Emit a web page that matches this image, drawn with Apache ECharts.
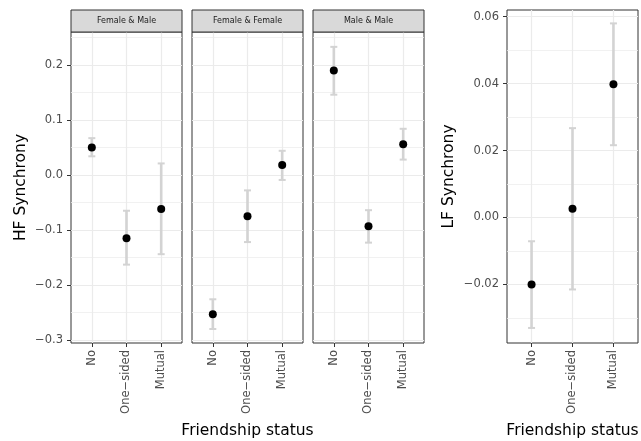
<!DOCTYPE html>
<html>
<head>
<meta charset="utf-8">
<script src="https://cdn.jsdelivr.net/npm/echarts@6/dist/echarts.min.js"></script>
<style>
  html, body { margin: 0; padding: 0; background: #fff; }
  #chart { width: 641px; height: 441px; }
</style>
</head>
<body>
<div id="chart"></div>
<script>
// categories along x (placed at 1, 2, 3 like a discrete ggplot axis)
var categories = ["No", "One\u2212sided", "Mutual"];
var catPos = [1, 2, 3];
var facets = ["Female & Male", "Female & Female", "Male & Male"];

// HF synchrony: one row per facet, one value per category
var hfMean = [
  [0.050, -0.115, -0.062],
  [-0.253, -0.075, 0.018],
  [0.190, -0.093, 0.056]
];
var hfLow = [
  [0.034, -0.163, -0.144],
  [-0.280, -0.122, -0.009],
  [0.146, -0.123, 0.028]
];
var hfHigh = [
  [0.067, -0.065, 0.021],
  [-0.226, -0.028, 0.044],
  [0.233, -0.064, 0.084]
];

// LF synchrony
var lfMean = [-0.020, 0.0026, 0.0398];
var lfLow = [-0.033, -0.0215, 0.0216];
var lfHigh = [-0.0071, 0.0267, 0.058];

// tick values
var hfTicks = [-0.3, -0.2, -0.1, 0, 0.1, 0.2];
var hfMinor = [-0.25, -0.15, -0.05, 0.05, 0.15, 0.25];
var lfTicks = [-0.02, 0, 0.02, 0.04, 0.06];
var lfMinor = [-0.03, -0.01, 0.01, 0.03, 0.05];

var FONT = "DejaVu Sans";
var panels = [
  { left: 71, top: 32, width: 111, height: 311 },
  { left: 192, top: 32, width: 111, height: 311 },
  { left: 313, top: 32, width: 111, height: 311 },
  { left: 507, top: 10, width: 131, height: 333 }
];

function fmt(dec) {
  return function (v) {
    var s = Math.abs(v).toFixed(dec);
    return (v < -1e-9 ? "\u2212" : "") + s;
  };
}

var grids = [], xAxes = [], yAxes = [], yMinorAxes = [], series = [];

panels.forEach(function (p, i) {
  var isLF = i === 3;
  grids.push({
    left: p.left, top: p.top, width: p.width, height: p.height,
    show: true, borderColor: "#333333", borderWidth: 1, backgroundColor: "transparent"
  });
  xAxes.push({
    gridIndex: i, type: "value", min: 0.4, max: 3.6,
    axisLine: { show: false, onZero: false },
    axisTick: { show: true, length: 4, customValues: catPos, lineStyle: { color: "#333333" } },
    axisLabel: {
      customValues: catPos, rotate: 90, margin: 7,
      color: "#4d4d4d", fontFamily: FONT, fontSize: 11.5,
      formatter: function (v) { return categories[Math.round(v) - 1]; }
    },
    splitLine: { show: true, lineStyle: { color: "#ebebeb", width: 1.2 } }
  });
  var ticks = isLF ? lfTicks : hfTicks;
  yAxes.push({
    gridIndex: i, type: "value",
    min: isLF ? -0.0375 : -0.3055,
    max: isLF ? 0.062 : 0.26,
    axisLine: { show: false, onZero: false },
    axisTick: { show: i === 0 || isLF, length: 4, customValues: ticks, lineStyle: { color: "#333333" } },
    axisLabel: {
      show: i === 0 || isLF, customValues: ticks, margin: 8,
      color: "#4d4d4d", fontFamily: FONT, fontSize: 11.5,
      formatter: fmt(isLF ? 2 : 1)
    },
    splitLine: { show: true, lineStyle: { color: "#ebebeb", width: 1.2 } }
  });
  yMinorAxes.push({
    gridIndex: i, type: "value",
    min: isLF ? -0.0375 : -0.3055,
    max: isLF ? 0.062 : 0.26,
    axisLine: { show: false, onZero: false },
    axisTick: { show: false, customValues: isLF ? lfMinor : hfMinor },
    axisLabel: { show: false },
    splitLine: { show: true, lineStyle: { color: "#eeeeee", width: 0.8 } }
  });
});

function errData(low, high) {
  return catPos.map(function (x, k) { return [x, low[k], high[k]]; });
}
function ptData(mean) {
  return catPos.map(function (x, k) { return [x, mean[k]]; });
}

function errorBar(params, api) {
  var x = api.value(0);
  var lo = api.coord([x, api.value(1)]);
  var hi = api.coord([x, api.value(2)]);
  var hw = 3.5;
  var bar = { stroke: "#d3d3d3", lineWidth: 2.6 };
  var cap = { stroke: "#d3d3d3", lineWidth: 2 };
  return {
    type: "group",
    children: [
      { type: "line", shape: { x1: lo[0], y1: lo[1], x2: hi[0], y2: hi[1] }, style: bar },
      { type: "line", shape: { x1: lo[0] - hw, y1: lo[1], x2: lo[0] + hw, y2: lo[1] }, style: cap },
      { type: "line", shape: { x1: hi[0] - hw, y1: hi[1], x2: hi[0] + hw, y2: hi[1] }, style: cap }
    ]
  };
}

for (var i = 0; i < 4; i++) {
  var isLF = i === 3;
  series.push({
    type: "custom", xAxisIndex: i, yAxisIndex: i,
    renderItem: errorBar, silent: true,
    data: isLF ? errData(lfLow, lfHigh) : errData(hfLow[i], hfHigh[i])
  });
  series.push({
    type: "scatter", xAxisIndex: i, yAxisIndex: i,
    symbol: "circle", symbolSize: 8, silent: true,
    itemStyle: { color: "#000000", opacity: 1 },
    data: isLF ? ptData(lfMean) : ptData(hfMean[i])
  });
}

// facet strips and axis titles
var graphics = [];
for (var f = 0; f < 3; f++) {
  var p = panels[f];
  graphics.push({
    type: "rect",
    shape: { x: p.left, y: 10, width: p.width, height: 22 },
    style: { fill: "#d9d9d9", stroke: "#333333", lineWidth: 1 },
    z: 10
  });
  graphics.push({
    type: "text", x: p.left + p.width / 2, y: 21,
    style: { text: facets[f], fill: "#1a1a1a", font: "8px '" + FONT + "'", textAlign: "center", textVerticalAlign: "middle" },
    z: 11
  });
}
var titleFont = "15.5px '" + FONT + "'";
graphics.push({
  type: "text", x: 21, y: 187.5, rotation: Math.PI / 2,
  style: { text: "HF Synchrony", fill: "#000", font: titleFont, textAlign: "center", textVerticalAlign: "middle" }
});
graphics.push({
  type: "text", x: 449, y: 176.5, rotation: Math.PI / 2,
  style: { text: "LF Synchrony", fill: "#000", font: titleFont, textAlign: "center", textVerticalAlign: "middle" }
});
graphics.push({
  type: "text", x: 247.5, y: 431,
  style: { text: "Friendship status", fill: "#000", font: titleFont, textAlign: "center", textVerticalAlign: "middle" }
});
graphics.push({
  type: "text", x: 572.5, y: 431,
  style: { text: "Friendship status", fill: "#000", font: titleFont, textAlign: "center", textVerticalAlign: "middle" }
});

var myChart = echarts.init(document.getElementById("chart"));
myChart.setOption({
  animation: false,
  backgroundColor: "#ffffff",
  grid: grids,
  xAxis: xAxes,
  yAxis: yAxes.concat(yMinorAxes),
  series: series,
  graphic: graphics
});
</script>
</body>
</html>
